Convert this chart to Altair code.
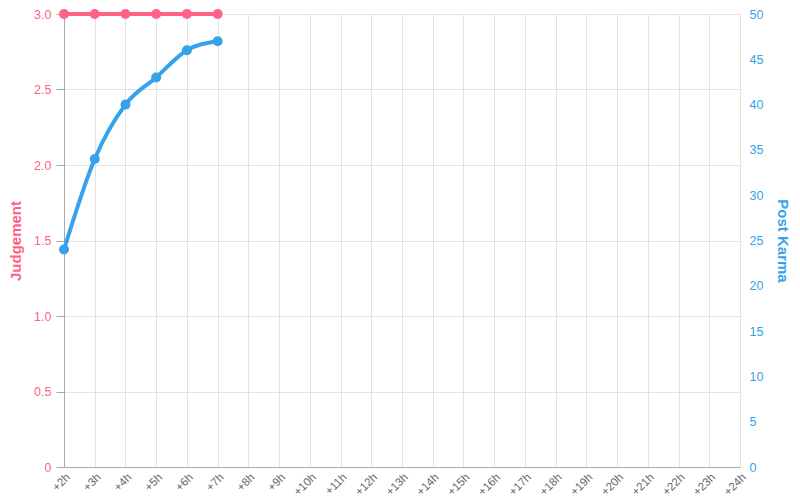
import altair as alt
import pandas as pd

hours = [f"+{h}h" for h in range(2, 25)]
obs_hours = ["+2h", "+3h", "+4h", "+5h", "+6h", "+7h"]
judgement = [3.0, 3.0, 3.0, 3.0, 3.0, 3.0]
karma = [24, 34, 40, 43, 46, 47]

PINK = "#ff6384"
BLUE = "#36a2eb"
FONT = "Liberation Sans"

df = pd.DataFrame({"hour": obs_hours, "judgement": judgement, "karma": karma})

x = alt.X(
    "hour:O",
    sort=hours,
    scale=alt.Scale(domain=hours, type="point", padding=0),
    axis=alt.Axis(
        title=None, labelAngle=-45, labelColor="#666", labelFontSize=11.5,
        labelFont=FONT, grid=True, gridColor="#e3e3e3", ticks=False,
        domainColor="#aaa", labelPadding=4, labelAlign="right", labelBaseline="top",
    ),
)

base = alt.Chart(df)

left_axis = alt.Axis(
    title="Judgement", titleColor=PINK, titleFont=FONT, titleFontSize=15,
    titleFontWeight="bold", titlePadding=10, labelColor=PINK, labelFont=FONT,
    labelFontSize=12.5, values=[0, 0.5, 1, 1.5, 2, 2.5, 3],
    labelExpr="datum.value == 0 ? '0' : format(datum.value, '.1f')",
    grid=True, gridColor="#e3e3e3", tickColor="#aaa", tickSize=8,
    domainColor="#aaa", labelPadding=5,
)
right_axis = alt.Axis(
    title="Post Karma", titleColor=BLUE, titleFont=FONT, titleFontSize=15,
    titleFontWeight="bold", titlePadding=12, labelColor=BLUE, labelFont=FONT,
    labelFontSize=12.5, values=list(range(0, 51, 5)), grid=False, ticks=False,
    domain=False, labelPadding=9, orient="right",
)

y1 = alt.Y("judgement:Q", scale=alt.Scale(domain=[0, 3]), axis=left_axis)
y2 = alt.Y("karma:Q", scale=alt.Scale(domain=[0, 50]), axis=right_axis)

j_line = base.mark_line(color=PINK, strokeWidth=4, interpolate="monotone").encode(x=x, y=y1)
j_pts = base.mark_circle(color=PINK, size=100, opacity=1).encode(x=x, y=y1)
k_line = base.mark_line(color=BLUE, strokeWidth=4, interpolate="monotone").encode(x=x, y=y2)
k_pts = base.mark_circle(color=BLUE, size=100, opacity=1).encode(x=x, y=y2)

left = alt.layer(j_line, j_pts)
right = alt.layer(k_line, k_pts)

chart = alt.layer(left, right).resolve_scale(y="independent").properties(
    width=676, height=453,
    autosize=alt.AutoSizeParams(type="none"),
    padding={"left": 56, "top": 6, "right": 52, "bottom": 33},
).configure_view(stroke=None)

chart.save("out.html", embed_options={"renderer": "svg", "actions": False})
